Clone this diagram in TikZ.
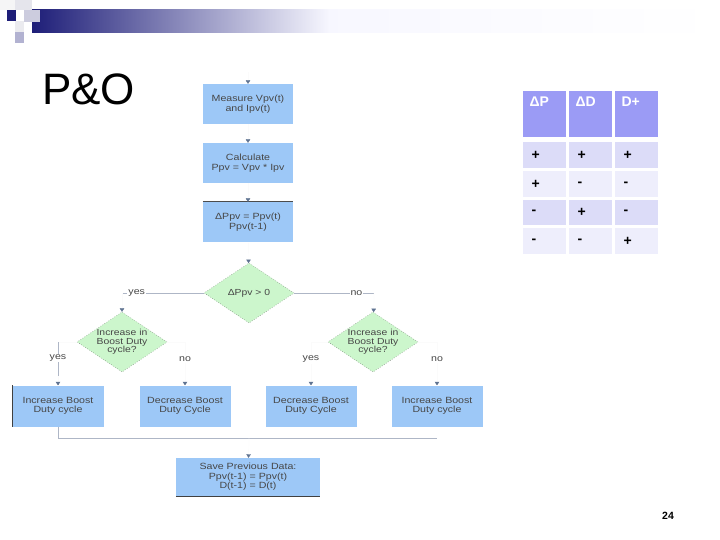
\documentclass[tikz,border=0pt]{standalone}
\usepackage{fontspec}
\setmainfont{Liberation Sans}
\newfontfamily\flowfont[FakeStretch=1.18]{Liberation Sans}
\usetikzlibrary{shapes.geometric,arrows.meta}
\definecolor{boxblue}{HTML}{9DC8F7}
\definecolor{dgreen}{HTML}{CCF6CC}
\definecolor{tipgray}{HTML}{5F7391}
\definecolor{linegray}{HTML}{AEB6C6}
\definecolor{navy}{HTML}{1E1E78}
\definecolor{thead}{HTML}{9B9BF5}
\definecolor{trowa}{HTML}{DCDCF8}
\definecolor{trowb}{HTML}{EEEEFC}
\tikzset{
  stepbox/.style={fill=boxblue, minimum width=90pt, minimum height=40pt, inner sep=1pt,
    align=center, text=black!72, font=\flowfont\fontsize{9}{9.5}\selectfont},
  decision/.style={diamond, draw=black!75, dotted, fill=dgreen, shape aspect=1.5,
    minimum width=90pt, minimum height=60pt, inner sep=0pt, align=center,
    text=black!72, font=\flowfont\fontsize{8.8}{8.5}\selectfont},
  flow/.style={draw=gray!3, -{Triangle[width=4.5pt,length=3.5pt,color=tipgray]}},
  faint/.style={draw=gray!3},
  branch/.style={draw=linegray, line width=0.8pt},
  lab/.style={fill=white, inner sep=1pt, text=black!72, font=\flowfont\fontsize{9}{9}\selectfont},
  cell/.style={anchor=north west, minimum width=43pt, minimum height=25.5pt, inner sep=0pt},
  celltext/.style={anchor=west, font=\bfseries\fontsize{14}{14}\selectfont}
}
\begin{document}
\begin{tikzpicture}[x=1pt,y=-1pt]
\useasboundingbox (0,0) rectangle (720,540);
\fill[left color=navy, right color=black!2!blue!3!white] (32,10) rectangle (330,33);
\fill[left color=black!2!blue!3!white, right color=white] (329.5,10) rectangle (720,33);
\fill[blue!8!black!4] (0,0) rectangle (15,10);
\fill[blue!25!black!10] (15,0) rectangle (32,10);
\fill[navy] (7,10) rectangle (16,21);
\fill[blue!35!black!20] (24,10) rectangle (40,22);
\fill[blue!20!black!8] (15,21) rectangle (24,32);
\fill[blue!40!black!30] (15,32) rectangle (24,43);
\node[anchor=base west, inner sep=0pt, font=\fontsize{44}{44}\selectfont] (title) at (42,105) {P\&O};

\node[stepbox] (measure) at (248,104) {Measure Vpv(t)\\and Ipv(t)};
\node[stepbox] (calc) at (248,163) {Calculate\\Ppv = Vpv * Ipv};
\node[stepbox] (delta) at (248,222) {ΔPpv = Ppv(t)\\Ppv(t-1)};
\draw[black!70, line width=0.8pt] (delta.north west) -- (delta.north east);
\node[decision] (check) at (249,293) {ΔPpv > 0};
\node[decision] (incl) at (122,342) {Increase in\\Boost Duty\\cycle?};
\node[decision] (incr) at (373,342) {Increase in\\Boost Duty\\cycle?};
\node[stepbox, minimum width=91pt, minimum height=41pt] (incA) at (58,406) {Increase Boost\\Duty cycle};
\draw[black!75, line width=0.8pt] (incA.north west) -- (incA.south west);
\node[stepbox, minimum width=91pt, minimum height=41pt] (decA) at (185,406) {Decrease Boost\\Duty Cycle};
\node[stepbox, minimum width=91pt, minimum height=41pt] (decB) at (311,406) {Decrease Boost\\Duty Cycle};
\node[stepbox, minimum width=91pt, minimum height=41pt] (incB) at (437,406) {Increase Boost\\Duty cycle};
\node[stepbox, minimum width=144pt, minimum height=38pt] (save) at (248,477) {Save Previous Data:\\Ppv(t-1) = Ppv(t)\\D(t-1) = D(t)};
\draw[black!75, line width=0.8pt] (save.south west) -- (save.south east);

\coordinate (in) at (248,72);
\coordinate (yesturn) at (122,293);
\coordinate (noturn) at (374,293);
\coordinate (yesdrop) at (58,342);
\coordinate (merge) at (249,438);
\coordinate (mergeend) at (437,438);
\draw[flow] (in) -- (measure);
\draw[flow] (measure) -- (calc);
\draw[flow] (calc) -- (delta);
\draw[flow] (delta) -- (check);
\draw[branch] (check.west) -- node[lab, pos=0.82]{yes} (yesturn);
\draw[branch] (check.east) -- node[lab, pos=0.78]{no} (noturn);
\draw[flow] (yesturn) -- (incl);
\draw[flow] (noturn) -- (incr);
\draw[faint] (incl.west) -- (yesdrop);
\draw[branch] (yesdrop) -- (incA.north |- 0,385) node[lab, pos=0.37]{yes};
\draw[flow] (incA.north |- 0,376) -- (incA);
\draw[flow] (incl.east) -| node[lab, pos=0.7]{no} (decA);
\draw[flow] (incr.west) -| node[lab, pos=0.7]{yes} (decB);
\draw[flow] (incr.east) -| node[lab, pos=0.7]{no} (incB);
\draw[branch] (incA.south) |- (mergeend);
\draw[flow] (merge) -- (save);

\foreach \c/\x/\t in {1/523/ΔP, 2/569/ΔD, 3/615/D+} {
  \node[cell, fill=thead, minimum height=46pt] (head\c) at (\x,91) {};
  \node[celltext, text=white] at (\x+3,102) {\t};
}
\foreach \r/\y/\col/\a/\b/\d in {1/142/trowa/+/+/+, 2/171/trowb/+/-/-, 3/199.5/trowa/-/+/-, 4/228/trowb/-/-/+} {
  \node[cell, fill=\col] (row\r a) at (523,\y) {};
  \node[cell, fill=\col] (row\r b) at (569,\y) {};
  \node[cell, fill=\col] (row\r c) at (615,\y) {};
  \node[celltext] at (row\r a.west) [xshift=5pt] {\a};
  \node[celltext] at (row\r b.west) [xshift=5pt] {\b};
  \node[celltext] at (row\r c.west) [xshift=5pt] {\d};
}
\node[font=\bfseries\fontsize{10.5}{10.5}\selectfont] (page) at (668,516) {24};
\end{tikzpicture}
\end{document}
